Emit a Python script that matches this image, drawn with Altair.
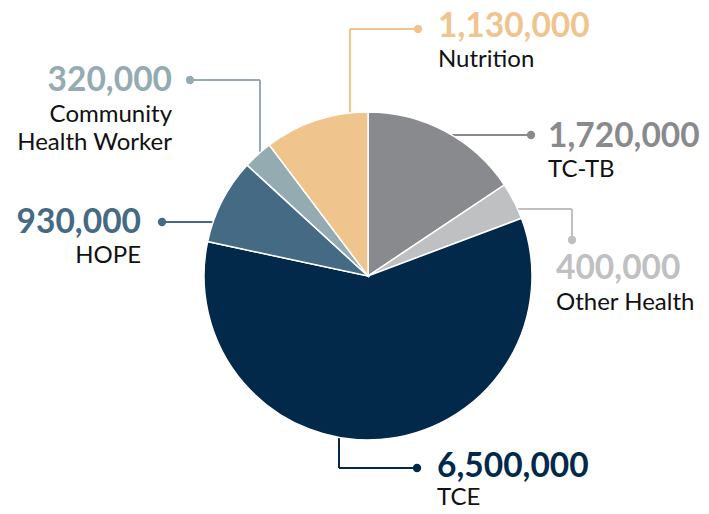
import math
import altair as alt
import pandas as pd

# ---- data ----
categories = ["TC-TB", "Other Health", "TCE", "HOPE", "Community Health Worker", "Nutrition"]
amounts = [1720000, 400000, 6500000, 930000, 320000, 1130000]
label_text = ["TC-TB", "Other Health", "TCE", "HOPE", "Community\nHealth Worker", "Nutrition"]
colors = ["#898A8E", "#BFC0C2", "#03294A", "#446A84", "#93ABB1", "#F0C48D"]

# ---- layout (page pixels) ----
W, H, M = 693, 498, 8
CX, CY, R = 368, 276, 164
layout = {
    "TC-TB": dict(dot=(531, 135), path="h", tx=548, ty=147, gap=30, align="left"),
    "Other Health": dict(dot=(572, 240), path="vh", via=209, tx=556, ty=279, gap=31, align="left"),
    "TCE": dict(dot=(417, 468), path="hv", via=339, tx=437, ty=477, gap=28, align="left"),
    "HOPE": dict(dot=(162, 222), path="h", tx=141, ty=233, gap=30, align="right"),
    "Community Health Worker": dict(dot=(190, 80), path="hv", via=260, tx=172, ty=91, gap=30.5, align="right"),
    "Nutrition": dict(dot=(418, 29), path="hv", via=350, tx=438, ty=37, gap=29.5, align="left"),
}

df = pd.DataFrame({
    "idx": list(range(len(categories))),
    "category": categories,
    "amount": amounts,
    "label": label_text,
})
df["value_str"] = df["amount"].map(lambda v: f"{v:,}")
df["dotx"] = [layout[c]["dot"][0] for c in categories]
df["doty"] = [layout[c]["dot"][1] for c in categories]
df["tx"] = [layout[c]["tx"] for c in categories]
df["ty"] = [layout[c]["ty"] for c in categories]
df["ty2"] = [layout[c]["ty"] + layout[c]["gap"] for c in categories]
df["align"] = [layout[c]["align"] for c in categories]


def edge_x(y, side):
    return CX + side * math.sqrt(max(R * R - (y - CY) ** 2, 0))


def edge_y(x, side):
    return CY + side * math.sqrt(max(R * R - (x - CX) ** 2, 0))


segs = []
for c in categories:
    L = layout[c]
    dx, dy = L["dot"]
    sx = 1 if dx > CX else -1
    sy = 1 if dy > CY else -1
    if L["path"] == "h":
        segs.append((c, dx, dy, edge_x(dy, sx), dy))
    elif L["path"] == "hv":
        v = L["via"]
        segs.append((c, dx, dy, v, dy))
        segs.append((c, v, dy, v, edge_y(v, sy)))
    elif L["path"] == "vh":
        v = L["via"]
        segs.append((c, dx, dy, dx, v))
        segs.append((c, dx, v, edge_x(v, sx), v))
seg_df = pd.DataFrame(segs, columns=["category", "x", "y", "x2", "y2"])

xs = alt.Scale(domain=[M, M + W], range=[0, W])
ys = alt.Scale(domain=[M, M + H], range=[0, H])
cs = alt.Scale(domain=categories, range=colors)

base_color = alt.Color("category:N", scale=cs, legend=None)

pie = alt.Chart(df).mark_arc(radius=R, stroke="white", strokeWidth=1.5).encode(
    theta=alt.Theta("amount:Q", stack=True),
    color=base_color,
    order=alt.Order("idx:Q"),
    x=alt.X(datum=CX, type="quantitative", scale=xs, axis=None),
    y=alt.Y(datum=CY, type="quantitative", scale=ys, axis=None),
)

lines = alt.Chart(seg_df).mark_rule(strokeWidth=2).encode(
    x=alt.X("x:Q", scale=xs, axis=None),
    y=alt.Y("y:Q", scale=ys, axis=None),
    x2="x2:Q",
    y2="y2:Q",
    color=base_color,
)

dots = alt.Chart(df).mark_circle(size=70, opacity=1).encode(
    x=alt.X("dotx:Q", scale=xs, axis=None),
    y=alt.Y("doty:Q", scale=ys, axis=None),
    color=base_color,
)

layers = [lines, pie, dots]
for al in ["left", "right"]:
    sub = df[df["align"] == al]
    val = alt.Chart(sub).mark_text(
        font="Lato", fontWeight="bold", fontSize=33.5, align=al, baseline="alphabetic"
    ).encode(
        x=alt.X("tx:Q", scale=xs, axis=None),
        y=alt.Y("ty:Q", scale=ys, axis=None),
        text="value_str:N",
        color=base_color,
    )
    cat = alt.Chart(sub).mark_text(
        font="Lato", fontSize=24, align=al, baseline="alphabetic",
        lineBreak="\n", lineHeight=28.5, color="#111111"
    ).encode(
        x=alt.X("tx:Q", scale=xs, axis=None),
        y=alt.Y("ty2:Q", scale=ys, axis=None),
        text="label:N",
    )
    layers += [val, cat]

chart = alt.layer(*layers).properties(
    width=W, height=H, padding=0, autosize=alt.AutoSizeParams(type="none"),
    background="white",
).configure_view(stroke=None)

chart.save("out.html", embed_options={"renderer": "svg", "actions": False})
